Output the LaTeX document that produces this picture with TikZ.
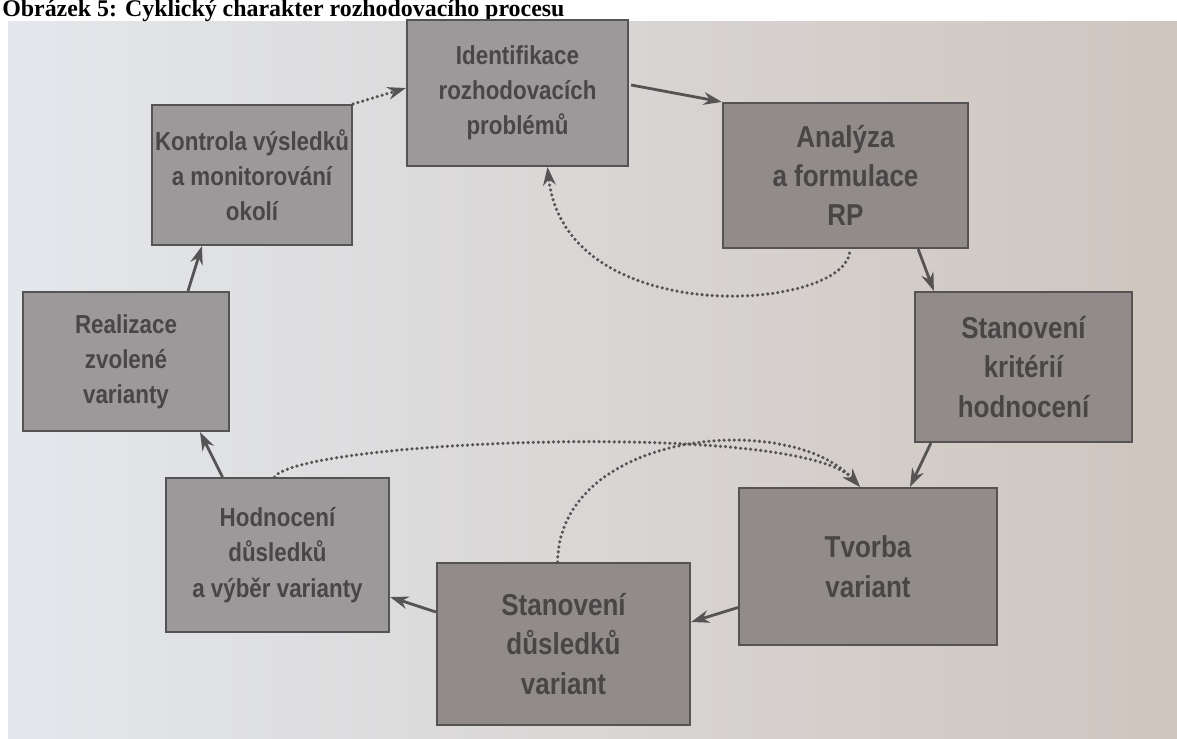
\documentclass[tikz,border=0pt]{standalone}
\usepackage{fontspec}
\setmainfont{Liberation Serif}
\setsansfont{Liberation Sans}[FakeStretch=0.86]
\usepackage{tikz}
\usetikzlibrary{arrows.meta, calc}

\definecolor{boxgray}{RGB}{155,153,153}
\definecolor{boxdark}{RGB}{145,140,137}
\definecolor{linegray}{RGB}{85,83,83}
\definecolor{textgray}{RGB}{72,70,70}
\definecolor{paperleft}{RGB}{228,231,236}
\definecolor{paperright}{RGB}{206,197,190}

\begin{document}
\begin{tikzpicture}[
    x=0.025cm, y=-0.025cm,
    box/.style={rectangle, draw=linegray, line width=1.4pt, fill=boxgray, text=textgray, align=center, inner sep=2pt, font=\sffamily\bfseries\fontsize{18.5}{25}\selectfont},
    bigbox/.style={box, fill=boxdark, font=\sffamily\bfseries\fontsize{21.5}{28}\selectfont},
    arrow/.style={-{Stealth[length=13pt, width=9pt]}, line width=2pt, linegray},
    back/.style={-{Stealth[length=13pt, width=9pt]}, line width=2.5pt, line cap=round, dash pattern=on 0pt off 3.6pt, linegray},
]

% page and photo
\useasboundingbox (0,0) rectangle (1177,738);
\fill[white] (0,0) rectangle (1177,738);
\fill[left color=paperleft, right color=paperright] (8,21) rectangle (1177,738);
\node[anchor=base west, inner sep=0pt, font=\bfseries\fontsize{17}{19}\selectfont] (title) at (2,16.5) {Obrázek 5: Cyklický charakter rozhodovacího procesu};

% steps of the cycle
\node[box, minimum width=5.53cm, minimum height=3.65cm] (ident) at (517.5,93) {Identifikace\\rozhodovacích\\problémů};
\node[bigbox, minimum width=6.13cm, minimum height=3.63cm] (anal) at (845.5,175.5) {Analýza\\a formulace\\RP};
\node[bigbox, minimum width=5.43cm, minimum height=3.75cm] (krit) at (1023.5,367) {Stanovení\\kritérií\\hodnocení};
\node[bigbox, minimum width=6.45cm, minimum height=3.93cm] (tvorba) at (868,566.5) {Tvorba\\variant};
\node[bigbox, minimum width=6.33cm, minimum height=4.05cm] (dusl) at (563.5,644) {Stanovení\\důsledků\\variant};
\node[box, minimum width=5.58cm, minimum height=3.85cm] (hodn) at (277.5,555) {Hodnocení\\důsledků\\a výběr varianty};
\node[box, minimum width=5.15cm, minimum height=3.48cm] (real) at (126,361.5) {Realizace\\zvolené\\varianty};
\node[box, minimum width=5.0cm, minimum height=3.5cm] (kontr) at (252,175) {Kontrola výsledků\\a monitorování\\okolí};

% main cycle
\draw[arrow] ($(ident.east)+(2,-8)$) -- (anal.north west);
\draw[arrow] ($(anal.south east)+(-51,0)$) -- ($(krit.north west)+(20,0)$);
\draw[arrow] ($(krit.south west)+(17,0)$) -- ($(tvorba.north)+(42,0)$);
\draw[arrow] ($(tvorba.west)+(0,41)$) -- ($(dusl.east)+(0,-22)$);
\draw[arrow] ($(dusl.west)+(0,-32)$) -- ($(hodn.east)+(0,42)$);
\draw[arrow] ($(hodn.north)+(-55,0)$) -- ($(real.south)+(74,0)$);
\draw[arrow] ($(real.north)+(62,0)$) -- ($(kontr.south)+(-50,0)$);

% feedback loops
\draw[back] (kontr.north east) -- ($(ident.west)+(0,-5)$);
\draw[back] ($(anal.south)+(4,4)$) .. controls (840,312) and (565,330) .. ($(ident.south)+(30,0)$);
\draw[back] ($(hodn.north)+(-3,0)$) .. controls (300,440) and (800,420) .. ($(tvorba.north)+(-8,0)$);
\draw[back] ($(dusl.north)+(-6,0)$) .. controls (560,430) and (790,410) .. ($(tvorba.north)+(-8,0)$);

\end{tikzpicture}
\end{document}
